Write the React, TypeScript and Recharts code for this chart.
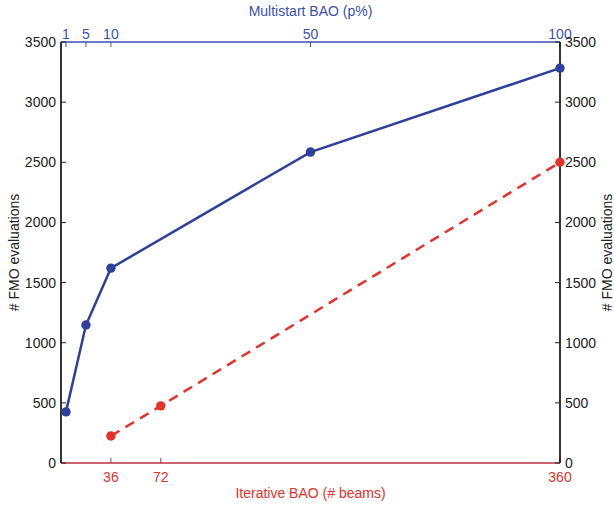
import React from 'react';
import { LineChart, Line, XAxis, YAxis } from 'recharts';

// Multistart BAO (top axis, p%)
const pPercent = [1, 5, 10, 50, 100];
const multistartEvals = [425, 1147, 1620, 2585, 3283];
// Iterative BAO (bottom axis, # beams)
const beams = [36, 72, 360];
const iterativeEvals = [225, 475, 2500];

const yTicks = [0, 500, 1000, 1500, 2000, 2500, 3000, 3500];
const beamTicks = [36, 72, 360];
const pTicks = [1, 5, 10, 50, 100];

const multistartData = pPercent.map((p, i) => ({ p, evals: multistartEvals[i] }));
const iterativeData = beams.map((b, i) => ({ beams: b, evals: iterativeEvals[i] }));

const BLUE = '#2f3f9c';
const BLUE_AXIS = '#3c4fb0';
const RED = '#e4322b';
const RED_AXIS = '#b5303f';
const FS = 14;

const yTitle = (offsetX: number) => (props: any) => {
  const vb = props.viewBox || {};
  const x = vb.x + offsetX;
  const y = vb.y + vb.height / 2;
  return (
    <text x={x} y={y} transform={`rotate(-90, ${x}, ${y})`} textAnchor="middle" dominantBaseline="central" fontSize={FS} fill="#222">
      # FMO evaluations
    </text>
  );
};

export default function App() {
  return (
    <div style={{ position: 'absolute', left: 0, top: 0, fontFamily: '"Liberation Sans", Arial, sans-serif', background: '#fff' }}>
      <LineChart width={614} height={506} margin={{ top: 0, right: 0, bottom: 0, left: 0 }}>
        <XAxis
          xAxisId="top"
          orientation="top"
          type="number"
          dataKey="p"
          domain={[0, 100]}
          ticks={pTicks}
          height={42}
          tickSize={-5}
          tickMargin={8}
          stroke={BLUE_AXIS}
          axisLine={{ stroke: BLUE_AXIS, strokeWidth: 1.3 }}
          tick={{ fill: BLUE_AXIS, fontSize: FS }}
          label={{
            content: (props: any) => {
              const vb = props.viewBox || {};
              return (
                <text x={vb.x + vb.width / 2} y={vb.y + 16} textAnchor="middle" fontSize={FS} fill={BLUE_AXIS}>
                  Multistart BAO (p%)
                </text>
              );
            },
          }}
        />
        <XAxis
          xAxisId="pb"
          orientation="bottom"
          type="number"
          dataKey="p"
          domain={[0, 100]}
          ticks={pTicks}
          height={0}
          tickSize={-5}
          tick={false}
          axisLine={false}
          stroke={BLUE_AXIS}
        />
        <XAxis
          xAxisId="bottom"
          orientation="bottom"
          type="number"
          dataKey="beams"
          domain={[0, 360]}
          ticks={beamTicks}
          height={43}
          tickSize={-5}
          tickMargin={14}
          stroke={RED_AXIS}
          axisLine={{ stroke: RED_AXIS, strokeWidth: 1.5 }}
          tick={{ fill: RED, fontSize: FS }}
          label={{
            content: (props: any) => {
              const vb = props.viewBox || {};
              return (
                <text x={vb.x + vb.width / 2} y={vb.y + 35} textAnchor="middle" fontSize={FS} fill={RED}>
                  Iterative BAO (# beams)
                </text>
              );
            },
          }}
        />
        <YAxis
          yAxisId="left"
          orientation="left"
          type="number"
          domain={[0, 3500]}
          ticks={yTicks}
          width={61}
          tickSize={-5}
          tickMargin={10}
          stroke="#222"
          axisLine={{ stroke: '#111', strokeWidth: 1.7 }}
          tick={{ fill: '#222', fontSize: FS }}
          label={{ content: yTitle(14) }}
        />
        <YAxis
          yAxisId="right"
          orientation="right"
          type="number"
          domain={[0, 3500]}
          ticks={yTicks}
          width={54}
          tickSize={-5}
          tickMargin={10}
          stroke="#222"
          axisLine={{ stroke: '#111', strokeWidth: 1.7 }}
          tick={{ fill: '#222', fontSize: FS }}
          label={{ content: yTitle(47) }}
        />
        <Line
          data={multistartData}
          xAxisId="pb"
          yAxisId="right"
          dataKey="evals"
          stroke="none"
          dot={false}
          activeDot={false}
          legendType="none"
          isAnimationActive={false}
        />
        <Line
          data={multistartData}
          xAxisId="top"
          yAxisId="left"
          dataKey="evals"
          stroke={BLUE}
          strokeWidth={2.5}
          dot={{ r: 4.7, fill: BLUE, stroke: BLUE, strokeWidth: 0 }}
          isAnimationActive={false}
        />
        <Line
          data={iterativeData}
          xAxisId="bottom"
          yAxisId="left"
          dataKey="evals"
          stroke={RED}
          strokeWidth={2.5}
          strokeDasharray="10 7"
          dot={{ r: 4.7, fill: RED, stroke: RED, strokeWidth: 0, strokeDasharray: '0' }}
          isAnimationActive={false}
        />
      </LineChart>
    </div>
  );
}
